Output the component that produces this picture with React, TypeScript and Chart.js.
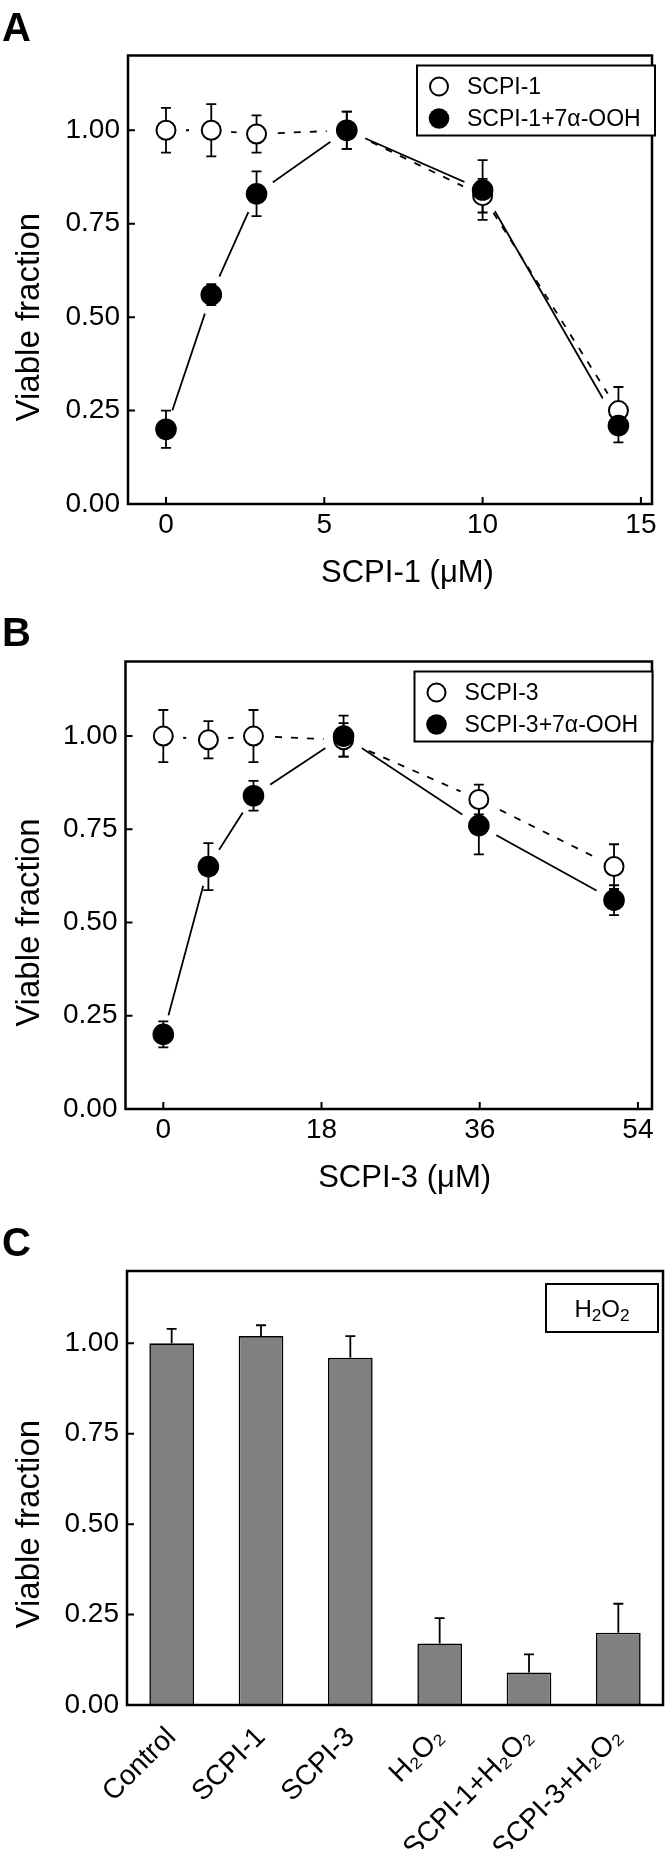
import React, { useEffect, useRef } from 'react';
import { Chart, registerables } from 'chart.js';

Chart.register(...registerables);

const FONT = "'Liberation Sans', Arial, 'DejaVu Sans', sans-serif";

// ---------- Panel A data (SCPI-1) ----------
const scpi1Conc = [0, 1.43, 2.86, 5.71, 10.0, 14.29];
const scpi1Viable = [1.0, 1.0, 0.99, 1.0, 0.825, 0.25];
const scpi1Err = [0.06, 0.07, 0.05, 0.05, 0.045, 0.063];
const scpi1OohViable = [0.2, 0.56, 0.83, 1.0, 0.84, 0.21];
const scpi1OohErr = [0.05, 0.028, 0.06, 0.05, 0.08, 0.045];
const concTicksA = [0, 5, 10, 15];

// ---------- Panel B data (SCPI-3) ----------
const scpi3Conc = [0, 5.13, 10.26, 20.51, 35.9, 51.28];
const scpi3Viable = [1.0, 0.99, 1.0, 0.99, 0.83, 0.65];
const scpi3Err = [0.07, 0.05, 0.07, 0.045, 0.04, 0.06];
const scpi3OohViable = [0.2, 0.65, 0.84, 1.0, 0.76, 0.56];
const scpi3OohErr = [0.035, 0.063, 0.04, 0.055, 0.077, 0.04];
const concTicksB = [0, 18, 36, 54];

const viableTicks = [0, 0.25, 0.5, 0.75, 1.0];

// ---------- Panel C data ----------
const treatments = ['Control', 'SCPI-1', 'SCPI-3', 'H₂O₂', 'SCPI-1+H₂O₂', 'SCPI-3+H₂O₂'];
const treatmentViable = [1.0, 1.02, 0.96, 0.17, 0.09, 0.2];
const treatmentErr = [0.04, 0.03, 0.06, 0.07, 0.05, 0.08];

// ---------- layout (canvas px) ----------
const W = 672;
const GEO_A = { top: 0, height: 600, left: 128, right: 666.5, frameTop: 55.5, frameBottom: 504 };
const GEO_B = { top: 600, height: 605, left: 125.5, right: 665, frameTop: 61.5, frameBottom: 509 };
const GEO_C = { top: 1205, height: 644, left: 127, right: 663, frameTop: 66, frameBottom: 500 };

const TICK_SIZE = 28;

function drawErrors(chart: any, sets: any[]) {
  const { ctx } = chart;
  const xs = chart.scales.x;
  const ys = chart.scales.y;
  ctx.save();
  ctx.strokeStyle = '#000';
  ctx.lineWidth = 1.8;
  const cap = 5;
  for (const s of sets) {
    s.y.forEach((v: number, i: number) => {
      const e = s.err[i];
      const px = xs.getPixelForValue(s.x ? s.x[i] : i);
      const pTop = ys.getPixelForValue(v + e);
      const pBot = ys.getPixelForValue(s.upOnly ? v : v - e);
      ctx.beginPath();
      ctx.moveTo(px, pTop);
      ctx.lineTo(px, pBot);
      ctx.moveTo(px - cap, pTop);
      ctx.lineTo(px + cap, pTop);
      if (!s.upOnly) {
        ctx.moveTo(px - cap, pBot);
        ctx.lineTo(px + cap, pBot);
      }
      ctx.stroke();
    });
  }
  ctx.restore();
}

// draws text where digits preceded by "_" are set as subscripts
function drawRichText(ctx: any, parts: any[], cx: number, cy: number, size: number) {
  const subSize = size * 0.72;
  let total = 0;
  for (const p of parts) {
    ctx.font = `${p.sub ? subSize : size}px ${FONT}`;
    total += ctx.measureText(p.t).width;
  }
  let x = cx - total / 2;
  ctx.textAlign = 'left';
  ctx.textBaseline = 'alphabetic';
  const base = cy + size * 0.36;
  for (const p of parts) {
    ctx.font = `${p.sub ? subSize : size}px ${FONT}`;
    ctx.fillText(p.t, x, p.sub ? base + size * 0.2 : base);
    x += ctx.measureText(p.t).width;
  }
}

const figurePlugin = {
  id: 'figure',
  afterDatasetDraw(chart: any, args: any, opts: any) {
    const ds = chart.data.datasets[args.index];
    if (ds && ds.drawErrorsAfter) drawErrors(chart, opts.errors || []);
  },
  afterDraw(chart: any, _args: any, opts: any) {
    const { ctx, chartArea } = chart;
    const { left, right, top, bottom } = chartArea;
    const xs = chart.scales.x;
    const ys = chart.scales.y;
    ctx.save();
    ctx.strokeStyle = '#000';
    ctx.fillStyle = '#000';
    // inward tick marks
    ctx.lineWidth = 2;
    ctx.beginPath();
    if (opts.xTickMarks) {
      for (const t of xs.ticks) {
        const p = xs.getPixelForValue(t.value);
        ctx.moveTo(p, bottom);
        ctx.lineTo(p, bottom - 7);
      }
    }
    for (const t of ys.ticks) {
      const p = ys.getPixelForValue(t.value);
      ctx.moveTo(left, p);
      ctx.lineTo(left + 7, p);
    }
    ctx.stroke();
    // frame
    ctx.lineWidth = 2.5;
    ctx.strokeRect(left, top, right - left, bottom - top);
    // x title
    if (opts.xTitle) {
      ctx.font = `31px ${FONT}`;
      ctx.textAlign = 'center';
      ctx.textBaseline = 'alphabetic';
      const t0 = xs.ticks[0].value;
      const t1 = xs.ticks[xs.ticks.length - 1].value;
      const cx = (xs.getPixelForValue(t0) + xs.getPixelForValue(t1)) / 2 + 4;
      ctx.fillText(opts.xTitle, cx, bottom + 78);
    }
    // y title
    if (opts.yTitle) {
      ctx.save();
      ctx.font = `33px ${FONT}`;
      const cy = (ys.getPixelForValue(0) + ys.getPixelForValue(1)) / 2;
      ctx.translate(30, cy);
      ctx.rotate(-Math.PI / 2);
      ctx.textAlign = 'center';
      ctx.textBaseline = 'middle';
      ctx.fillText(opts.yTitle, 0, 0);
      ctx.restore();
    }
    // legend box
    if (opts.legend) {
      const L = opts.legend;
      const bx = left + L.dx;
      const by = top + L.dy;
      ctx.fillStyle = '#fff';
      ctx.fillRect(bx, by, L.w, L.h);
      ctx.lineWidth = 2;
      ctx.strokeStyle = '#000';
      ctx.strokeRect(bx, by, L.w, L.h);
      ctx.font = `${L.fontSize}px ${FONT}`;
      ctx.textBaseline = 'middle';
      L.items.forEach((it: any, i: number) => {
        const cy = by + L.rows[i];
        if (it.dataset !== undefined) {
          const ds = chart.data.datasets[it.dataset];
          ctx.beginPath();
          ctx.arc(bx + L.markerX, cy, ds.legendRadius, 0, Math.PI * 2);
          ctx.fillStyle = ds.pointBackgroundColor;
          ctx.fill();
          if (ds.pointBorderWidth > 0) {
            ctx.lineWidth = ds.pointBorderWidth;
            ctx.strokeStyle = '#000';
            ctx.stroke();
          }
          ctx.fillStyle = '#000';
          ctx.textAlign = 'left';
          ctx.font = `${L.fontSize}px ${FONT}`;
          ctx.textBaseline = 'middle';
          ctx.fillText(ds.label, bx + L.textX, cy + 1);
        } else {
          ctx.fillStyle = '#000';
          drawRichText(ctx, it.parts, bx + L.w / 2, cy, L.fontSize);
        }
      });
    }
    ctx.restore();
  },
};

function yScale(geo: any) {
  return {
    type: 'linear',
    min: 0,
    max: 1.2,
    afterBuildTicks: (s: any) => {
      s.ticks = viableTicks.map((v) => ({ value: v }));
    },
    afterFit: (s: any) => {
      s.width = geo.left;
    },
    grid: { display: false, drawTicks: false },
    border: { display: false },
    ticks: {
      color: '#000',
      padding: 8,
      font: { family: FONT, size: TICK_SIZE },
      callback: (v: any) => Number(v).toFixed(2),
    },
  };
}

function lineConfig(p: any) {
  const geo = p.geo;
  const pts = (ys: number[]) => p.x.map((x: number, i: number) => ({ x, y: ys[i] }));
  return {
    type: 'scatter',
    data: {
      datasets: [
        { label: p.openLabel + ' line', data: pts(p.open), showLine: true, borderColor: '#000', borderWidth: 1.8, borderDash: [7, 9], pointRadius: 0, order: 10 },
        { label: p.filledLabel + ' line', data: pts(p.filled), showLine: true, borderColor: '#000', borderWidth: 1.8, pointRadius: 0, order: 9 },
        { label: 'gap', data: pts(p.open), showLine: false, pointRadius: 20, pointBackgroundColor: '#fff', pointBorderWidth: 0, pointBorderColor: '#fff', order: 8 },
        { label: 'gap', data: pts(p.filled), showLine: false, pointRadius: 20, pointBackgroundColor: '#fff', pointBorderWidth: 0, pointBorderColor: '#fff', order: 7, drawErrorsAfter: true },
        { label: p.openLabel, data: pts(p.open), showLine: false, pointRadius: 9.5, pointBorderWidth: 2, pointBackgroundColor: '#fff', pointBorderColor: '#000', legendRadius: 9, order: 6 },
        { label: p.filledLabel, data: pts(p.filled), showLine: false, pointRadius: 10.8, pointBorderWidth: 0, pointBackgroundColor: '#000', pointBorderColor: '#000', legendRadius: 10.3, order: 5 },
      ],
    },
    options: {
      responsive: false,
      maintainAspectRatio: false,
      animation: false,
      events: [],
      layout: { padding: { left: 0, top: geo.frameTop, right: W - geo.right, bottom: 0 } },
      scales: {
        x: {
          type: 'linear',
          min: p.xMin,
          max: p.xMax,
          afterBuildTicks: (s: any) => {
            s.ticks = p.xTicks.map((v: number) => ({ value: v }));
          },
          afterFit: (s: any) => {
            s.height = geo.height - geo.frameBottom;
          },
          grid: { display: false, drawTicks: false },
          border: { display: false },
          ticks: { color: '#000', padding: 4, font: { family: FONT, size: TICK_SIZE }, callback: (v: any) => String(v) },
        },
        y: yScale(geo),
      },
      plugins: {
        legend: { display: false },
        tooltip: { enabled: false },
        figure: {
          xTickMarks: true,
          xTitle: p.xTitle,
          yTitle: 'Viable fraction',
          errors: [
            { x: p.x, y: p.open, err: p.openErr },
            { x: p.x, y: p.filled, err: p.filledErr },
          ],
          legend: { dx: 289, dy: 10, w: 238, h: 70, fontSize: 23, rows: [21, 53], markerX: 22, textX: 50, items: [{ dataset: 4 }, { dataset: 5 }] },
        },
      },
    },
    plugins: [figurePlugin],
  };
}

function barConfig(geo: any) {
  return {
    type: 'bar',
    data: {
      labels: treatments,
      datasets: [
        {
          label: 'Viable fraction',
          data: treatmentViable,
          backgroundColor: '#808080',
          borderColor: '#000',
          borderWidth: 1.6,
          barPercentage: 0.5,
          categoryPercentage: 1,
        },
      ],
    },
    options: {
      responsive: false,
      maintainAspectRatio: false,
      animation: false,
      events: [],
      layout: { padding: { left: 0, top: geo.frameTop, right: W - geo.right, bottom: 0 } },
      scales: {
        x: {
          type: 'category',
          offset: true,
          afterFit: (s: any) => {
            s.height = geo.height - geo.frameBottom;
          },
          grid: { display: false, drawTicks: false },
          border: { display: false },
          ticks: { color: '#000', padding: 16, autoSkip: false, maxRotation: 45, minRotation: 45, font: { family: FONT, size: TICK_SIZE } },
        },
        y: yScale(geo),
      },
      plugins: {
        legend: { display: false },
        tooltip: { enabled: false },
        figure: {
          xTickMarks: false,
          yTitle: 'Viable fraction',
          errors: [],
          legend: {
            dx: 419,
            dy: 13,
            w: 112,
            h: 48,
            fontSize: 24,
            rows: [24],
            items: [{ parts: [{ t: 'H' }, { t: '2', sub: true }, { t: 'O' }, { t: '2', sub: true }] }],
          },
        },
      },
    },
    plugins: [
      figurePlugin,
      {
        id: 'barErrors',
        afterDatasetsDraw(chart: any) {
          drawErrors(chart, [{ x: null, y: treatmentViable, err: treatmentErr, upOnly: true }]);
        },
      },
    ],
  };
}

function ChartCanvas({ geo, build }: { geo: any; build: () => any }) {
  const ref = useRef<HTMLCanvasElement | null>(null);
  useEffect(() => {
    const chart = new Chart(ref.current as HTMLCanvasElement, build() as any);
    return () => chart.destroy();
  }, []);
  return (
    <canvas
      ref={ref}
      width={W}
      height={geo.height}
      style={{ position: 'absolute', left: 0, top: geo.top, width: W, height: geo.height, display: 'block' }}
    />
  );
}

function PanelLetter({ text, top }: { text: string; top: number }) {
  return (
    <div
      style={{
        position: 'absolute',
        left: 2,
        top,
        fontFamily: FONT,
        fontWeight: 'bold',
        fontSize: 40,
        lineHeight: 1,
        color: '#000',
      }}
    >
      {text}
    </div>
  );
}

export default function App() {
  return (
    <div style={{ position: 'absolute', left: 0, top: 0, width: W, height: 1849, background: '#fff', overflow: 'hidden' }}>
      <ChartCanvas
        geo={GEO_A}
        build={() =>
          lineConfig({
            geo: GEO_A,
            x: scpi1Conc,
            open: scpi1Viable,
            openErr: scpi1Err,
            filled: scpi1OohViable,
            filledErr: scpi1OohErr,
            openLabel: 'SCPI-1',
            filledLabel: 'SCPI-1+7α-OOH',
            xMin: -1.2,
            xMax: 15.35,
            xTicks: concTicksA,
            xTitle: 'SCPI-1 (μM)',
          })
        }
      />
      <ChartCanvas
        geo={GEO_B}
        build={() =>
          lineConfig({
            geo: GEO_B,
            x: scpi3Conc,
            open: scpi3Viable,
            openErr: scpi3Err,
            filled: scpi3OohViable,
            filledErr: scpi3OohErr,
            openLabel: 'SCPI-3',
            filledLabel: 'SCPI-3+7α-OOH',
            xMin: -4.3,
            xMax: 55.6,
            xTicks: concTicksB,
            xTitle: 'SCPI-3 (μM)',
          })
        }
      />
      <ChartCanvas geo={GEO_C} build={() => barConfig(GEO_C)} />
      <PanelLetter text="A" top={7} />
      <PanelLetter text="B" top={612} />
      <PanelLetter text="C" top={1222} />
    </div>
  );
}
